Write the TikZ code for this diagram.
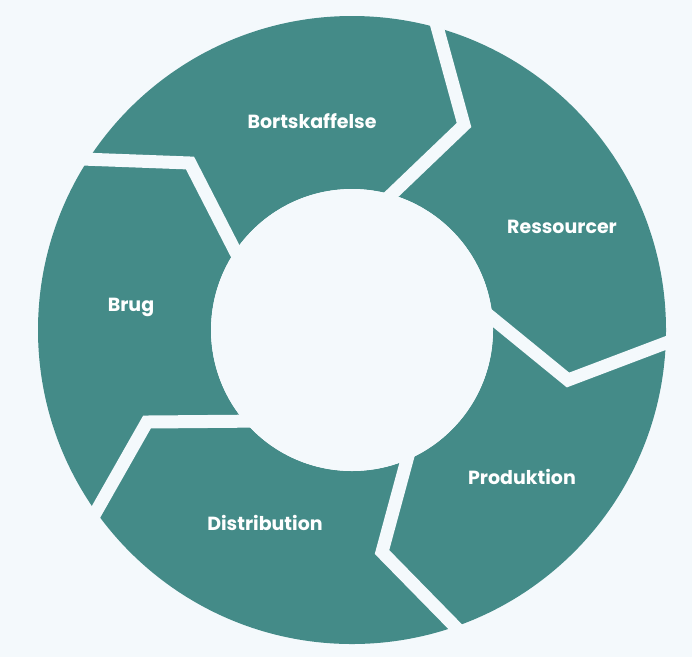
\documentclass[tikz,border=0pt]{standalone}
\usepackage{fontspec}
\setmainfont{Poppins}
\definecolor{teal1}{HTML}{448B88}
\definecolor{bgc}{HTML}{F4F9FC}
\begin{document}
\begin{tikzpicture}[x=1pt,y=-1pt,
  gap/.style={draw=bgc,line width=13pt,line join=miter,line cap=butt},
  lbl/.style={text=white,font=\bfseries\fontsize{19}{22}\selectfont,inner sep=0pt}]
\fill[bgc] (0,0) rectangle (692,657);
\useasboundingbox (0,0) rectangle (692,657);
\coordinate (c) at (352,330);
\fill[teal1,even odd rule] (c) circle (314) (c) circle (141);
% gaps
\draw[gap] (427,-10) -- (464,125) -- (370,215);
\draw[gap] (700,330) -- (568,380) -- (470,300);
\draw[gap] (480,652) -- (382,552) -- (415,430);
\draw[gap] (80,540) -- (147,422) -- (265,421);
\draw[gap] (55,158) -- (190,163) -- (250,280);
\fill[bgc] (c) circle (141);
\node[lbl] (l1) at (312,121) {Bortskaffelse};
\node[lbl] (l2) at (562,227) {Ressourcer};
\node[lbl] (l3) at (522,477) {Produktion};
\node[lbl] (l4) at (265,523) {Distribution};
\node[lbl] (l5) at (131,307) {Brug};
\end{tikzpicture}
\end{document}
